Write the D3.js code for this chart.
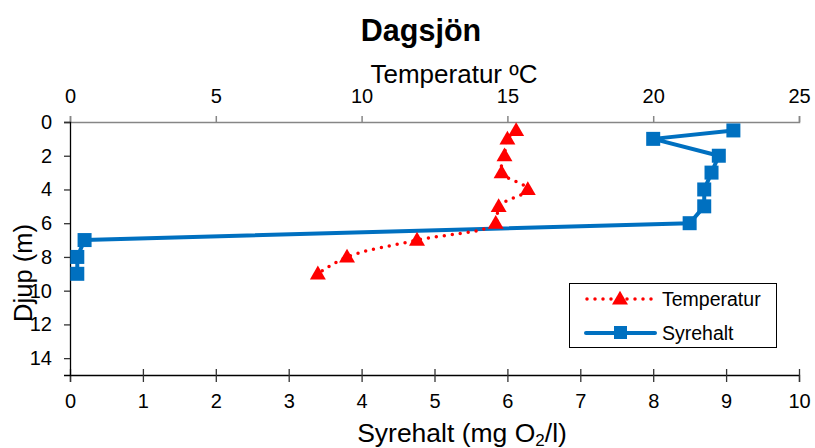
<!DOCTYPE html>
<html><head><meta charset="utf-8">
<script src="https://cdn.jsdelivr.net/npm/d3@7"></script>
<style>body{margin:0;background:#fff}svg{display:block;font-family:"Liberation Sans",Arial,sans-serif}</style>
</head><body><svg id="c" width="815" height="448"></svg>
<script>
const depths = [0.5, 1, 2, 3, 4, 5, 6, 7, 8, 9];
const temperatur = [15.3, 15.0, 14.9, 14.8, 15.7, 14.7, 14.6, 11.9, 9.5, 8.5];
const syrehalt = [9.1, 8.0, 8.9, 8.8, 8.7, 8.7, 8.5, 0.2, 0.1, 0.1];
const tempTicks = [0, 5, 10, 15, 20, 25];
const syreTicks = [0, 1, 2, 3, 4, 5, 6, 7, 8, 9, 10];
const depthTicks = [0, 2, 4, 6, 8, 10, 12, 14];

const svg = d3.select("#c");
const L = 70, R = 799, T = 122, B = 375;
const xT = d3.scaleLinear().domain([0, 25]).range([L, R]);
const xS = d3.scaleLinear().domain([0, 10]).range([L, R]);
const y = d3.scaleLinear().domain([0, 15]).range([T, B]);

// title
svg.append("text").attr("x", 421).attr("y", 41).attr("text-anchor", "middle")
  .attr("font-size", 30.5).attr("font-weight", "bold").text("Dagsjön");

// top axis
const gTop = svg.append("g").attr("transform", `translate(0,${T})`)
  .call(d3.axisTop(xT).tickValues(tempTicks).tickSizeOuter(0).tickSize(6).tickPadding(13));
gTop.select(".domain").attr("stroke", "#868686").attr("stroke-width", 1.5);
gTop.selectAll(".tick line").attr("stroke", "#868686").attr("stroke-width", 1.5);
gTop.selectAll("text").attr("font-size", 20).attr("font-family", "Liberation Sans, Arial").attr("fill", "#000");

// bottom axis
const gBot = svg.append("g").attr("transform", `translate(0,${B})`)
  .call(d3.axisBottom(xS).tickValues(syreTicks).tickSizeOuter(0).tickSize(7).tickPadding(12));
gBot.select(".domain").attr("stroke", "#000").attr("stroke-width", 1.3);
gBot.selectAll(".tick line").attr("y1", -6).attr("stroke", "#333").attr("stroke-width", 1.3);
gBot.selectAll("text").attr("font-size", 20).attr("font-family", "Liberation Sans, Arial").attr("fill", "#000");

// left axis
const gL = svg.append("g").attr("transform", `translate(${L},0)`)
  .call(d3.axisLeft(y).tickValues(depthTicks).tickSizeOuter(0).tickSize(6).tickPadding(12));
gL.select(".domain").attr("stroke", "#000").attr("stroke-width", 1.3);
gL.selectAll(".tick line").attr("stroke", "#333").attr("stroke-width", 1.3);
gL.selectAll("text").attr("font-size", 20).attr("font-family", "Liberation Sans, Arial").attr("fill", "#000");

// axis titles
svg.append("text").attr("x", 454).attr("y", 83).attr("text-anchor", "middle")
  .attr("font-size", 26).text("Temperatur ºC");
const bt = svg.append("text").attr("x", 462).attr("y", 442).attr("text-anchor", "middle").attr("font-size", 26.5);
bt.append("tspan").text("Syrehalt (mg O");
bt.append("tspan").attr("font-size", 17).attr("dy", 4).text("2");
bt.append("tspan").attr("dy", -4).text("/l)");
svg.append("text").attr("transform", "translate(32,273) rotate(-90)").attr("text-anchor", "middle")
  .attr("font-size", 25.5).text("Djup (m)");

const blue = "#0070C0", red = "#FF0000";
const tri = d3.symbol().type(d3.symbolTriangle).size(110);

// syrehalt series
const sData = depths.map((d, i) => ({d, v: syrehalt[i]}));
svg.append("path").datum(sData)
  .attr("d", d3.line().x(p => xS(p.v)).y(p => y(p.d)))
  .attr("fill", "none").attr("stroke", blue).attr("stroke-width", 4).attr("stroke-linejoin", "round");
svg.selectAll(".sq").data(sData).enter().append("rect")
  .attr("x", p => xS(p.v) - 7).attr("y", p => y(p.d) - 7).attr("width", 14).attr("height", 14)
  .attr("fill", blue);

// temperature series
const tData = depths.map((d, i) => ({d, v: temperatur[i]}));
svg.append("path").datum(tData)
  .attr("d", d3.line().x(p => xT(p.v)).y(p => y(p.d)).curve(d3.curveCatmullRom.alpha(0.5)))
  .attr("fill", "none").attr("stroke", red).attr("stroke-width", 3.5)
  .attr("stroke-dasharray", "0 8").attr("stroke-linecap", "round");
svg.selectAll(".tr").data(tData).enter().append("path")
  .attr("d", tri).attr("transform", p => `translate(${xT(p.v)},${y(p.d) + 1})`).attr("fill", red);

// legend
const lg = svg.append("g");
lg.append("rect").attr("x", 569.5).attr("y", 283.5).attr("width", 207).attr("height", 64)
  .attr("fill", "#fff").attr("stroke", "#000").attr("stroke-width", 1);
lg.append("line").attr("x1", 587).attr("x2", 654).attr("y1", 299).attr("y2", 299)
  .attr("stroke", red).attr("stroke-width", 3.5).attr("stroke-dasharray", "0 8").attr("stroke-linecap", "round");
lg.append("path").attr("d", tri).attr("transform", "translate(620,300)").attr("fill", red);
lg.append("text").attr("x", 662).attr("y", 306).attr("font-size", 19.5).text("Temperatur");
lg.append("line").attr("x1", 586).attr("x2", 655).attr("y1", 333).attr("y2", 333)
  .attr("stroke", blue).attr("stroke-width", 4).attr("stroke-linecap", "round");
lg.append("rect").attr("x", 614).attr("y", 326).attr("width", 13).attr("height", 13).attr("fill", blue);
lg.append("text").attr("x", 662).attr("y", 340).attr("font-size", 19.5).text("Syrehalt");
</script></body></html>
